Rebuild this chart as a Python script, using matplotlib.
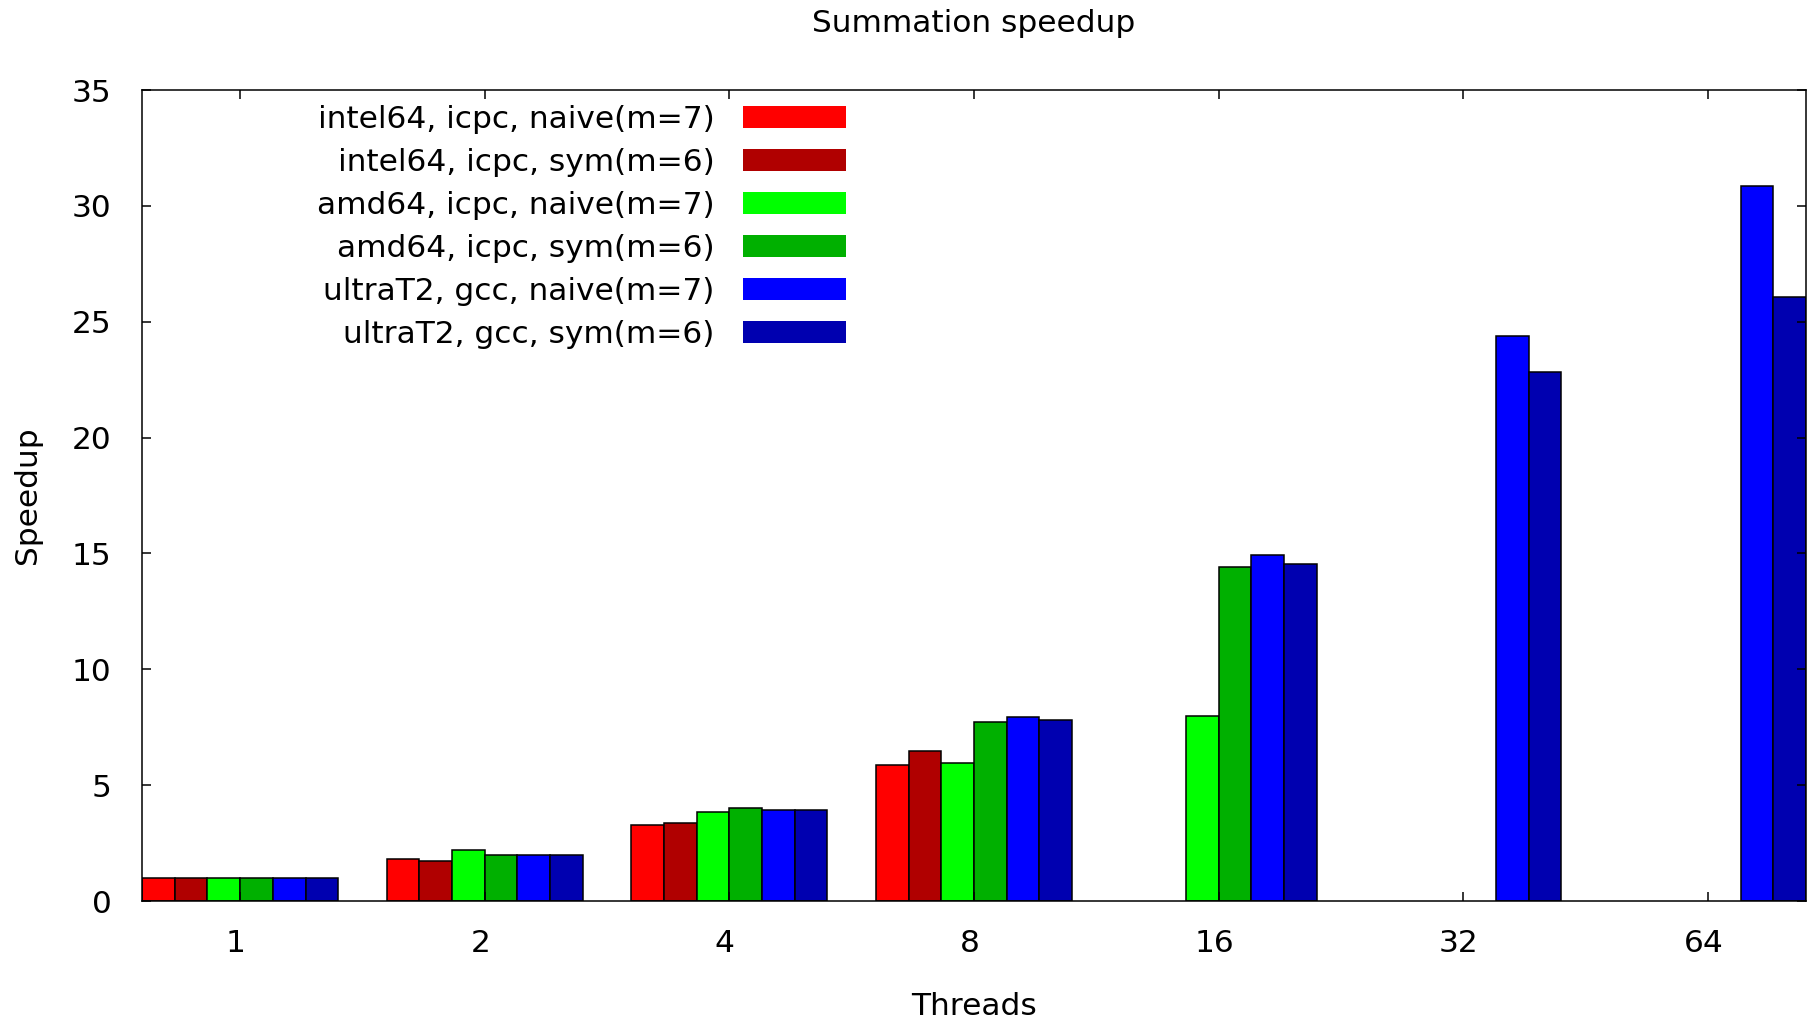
import matplotlib
matplotlib.use("Agg")
import matplotlib.pyplot as plt
import matplotlib.transforms as mtransforms
import numpy as np

# threads on the x axis, one cluster of bars per thread count
threads = ["1", "2", "4", "8", "16", "32", "64"]
series_names = [
    "intel64, icpc, naive(m=7)",
    "intel64, icpc, sym(m=6)",
    "amd64, icpc, naive(m=7)",
    "amd64, icpc, sym(m=6)",
    "ultraT2, gcc, naive(m=7)",
    "ultraT2, gcc, sym(m=6)",
]
nan = np.nan
intel_naive = [0.98, 1.80, 3.28, 5.88, nan, nan, nan]
intel_sym = [0.98, 1.72, 3.37, 6.47, nan, nan, nan]
amd_naive = [0.98, 2.19, 3.85, 5.95, 7.99, nan, nan]
amd_sym = [0.98, 2.00, 4.03, 7.72, 14.43, nan, nan]
ultra_naive = [0.98, 2.00, 3.93, 7.92, 14.92, 24.38, 30.85]
ultra_sym = [0.98, 2.00, 3.93, 7.82, 14.55, 22.83, 26.06]
colors = ["#ff0000", "#b00000", "#00ff00", "#00b000", "#0000ff", "#0000b0"]

series = [intel_naive, intel_sym, amd_naive, amd_sym, ultra_naive, ultra_sym]

fig = plt.figure(figsize=(18.14, 10.22), dpi=100)
ax = fig.add_axes([142 / 1814, 1 - 901 / 1022, 1664 / 1814, 811 / 1022])

x = np.arange(len(threads))
w = 0.1337
n = len(series)
for j, (vals, name, c) in enumerate(zip(series, series_names, colors)):
    ax.bar(x + (j - (n - 1) / 2) * w, vals, width=w, color=c,
           edgecolor="black", linewidth=1.1, label=name)

ax.set_xlim(-n / 2 * w, len(threads) - 1 + n / 2 * w)
ax.set_ylim(0, 35)
ax.set_xticks(x)
ax.set_xticklabels(threads)
ax.set_yticks(np.arange(0, 36, 5))

fs = 22.5
ax.tick_params(direction="in", top=True, right=True, length=6.5, width=1.1,
               labelsize=fs, colors="black")
ax.tick_params(axis="y", pad=22)
ax.tick_params(axis="x", pad=20)
for s in ax.spines.values():
    s.set_linewidth(1.1)

# gnuplot puts the x labels a few pixels left of the tick marks
shift = mtransforms.ScaledTranslation(-4.5 / 100, 0, fig.dpi_scale_trans)
for lab in ax.get_xticklabels():
    lab.set_transform(lab.get_transform() + shift)

ax.set_xlabel("Threads", fontsize=fs)
ax.xaxis.set_label_coords(0.5, -0.1123)
ax.set_ylabel("Speedup", fontsize=fs)
ax.yaxis.set_label_coords(-0.0600, 0.5)
ax.set_title("Summation speedup", fontsize=fs, y=1.0826, va="center", pad=0)

leg = ax.legend(loc="upper right", bbox_to_anchor=(0.423, 0.982),
                borderaxespad=0, borderpad=0, frameon=False, markerfirst=False,
                handlelength=3.3, handletextpad=0.9, labelspacing=0.45,
                fontsize=fs)
for h in leg.legend_handles:
    h.set_edgecolor("none")

fig.savefig("out.png", dpi=100)
